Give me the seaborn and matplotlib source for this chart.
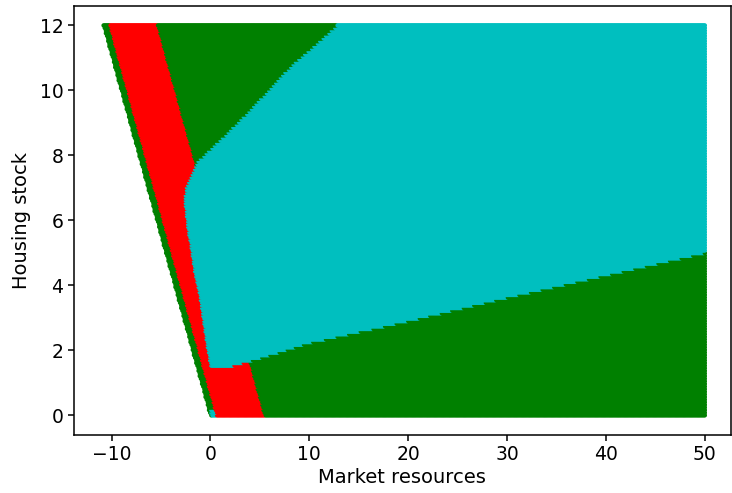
import matplotlib
matplotlib.use('Agg')
import matplotlib.pyplot as plt
import numpy as np
import pandas as pd
import seaborn as sns

# Borrowing limit: lowest market resources allowed for each housing stock
limit_slope = -0.9            # m_min = limit_slope * h
edge_strip = 0.65             # thin green strip along the limit
red_width = 5.5               # red band measured from the limit
corner_h = 0.2                # tiny cyan speck at the origin corner

# Upper edge of the cyan region (market resources -> housing stock)
top_m = [-1.5, 1.35, 3.7, 6.07, 8.4, 10.8, 12.8]
top_h = [7.75, 8.57, 9.28, 10.05, 10.82, 11.43, 12.0]

# Left edge of the cyan region (housing stock -> market resources)
left_h = [1.41, 2.54, 3.56, 4.58, 5.9, 6.63, 7.04, 7.75]
left_m = [0.1, -0.5, -0.98, -1.65, -2.3, -2.55, -2.4, -1.4]

# Lower edge of the cyan region (market resources -> housing stock)
bottom_m = [0.1, 2.0, 4.4, 7.1, 10.0, 20.0, 29.4, 50.0]
bottom_h = [1.45, 1.5, 1.7, 1.95, 2.23, 2.9, 3.58, 5.0]

m_grid = np.linspace(-10.8, 50.0, 520)
h_grid = np.linspace(0.0, 12.0, 150)

M, H = np.meshgrid(m_grid, h_grid)
M = M.ravel()
H = H.ravel()
m_min = limit_slope * H
keep = M >= m_min - 1e-9
M, H, m_min = M[keep], H[keep], m_min[keep]

cyan = ((H >= np.interp(M, bottom_m, bottom_h))
        & (M >= np.interp(H, left_h, left_m))
        & (H <= np.interp(M, top_m, top_h) + 1e-9))
edge = M < m_min + edge_strip
corner = edge & (H <= corner_h) & (M > m_min + 0.15)

choice = np.where(corner, 'c',
         np.where(edge, 'g',
         np.where(cyan, 'c',
         np.where(M < m_min + red_width, 'r', 'g'))))

df = pd.DataFrame({'m': M, 'h': H, 'choice': choice})

fig = plt.figure(figsize=(7.32, 4.93), dpi=100)
ax = fig.add_axes([0.101, 0.118, 0.897, 0.870])

sns.scatterplot(data=df, x='m', y='h', hue='choice',
                palette={'g': 'g', 'r': 'r', 'c': 'c'},
                s=10, linewidth=0, legend=False, ax=ax)

ax.set_xlim(-13.8, 52.6)
ax.set_ylim(-0.6, 12.6)
ax.set_xticks([-10, 0, 10, 20, 30, 40, 50])
ax.set_yticks([0, 2, 4, 6, 8, 10, 12])
ax.set_xlabel('Market resources', fontsize=14, labelpad=3)
ax.set_ylabel('Housing stock', fontsize=14, labelpad=6)
ax.tick_params(labelsize=13.5, length=4, width=1.1)
for sp in ax.spines.values():
    sp.set_linewidth(1.1)

fig.savefig('out.png', dpi=100, facecolor='white')
